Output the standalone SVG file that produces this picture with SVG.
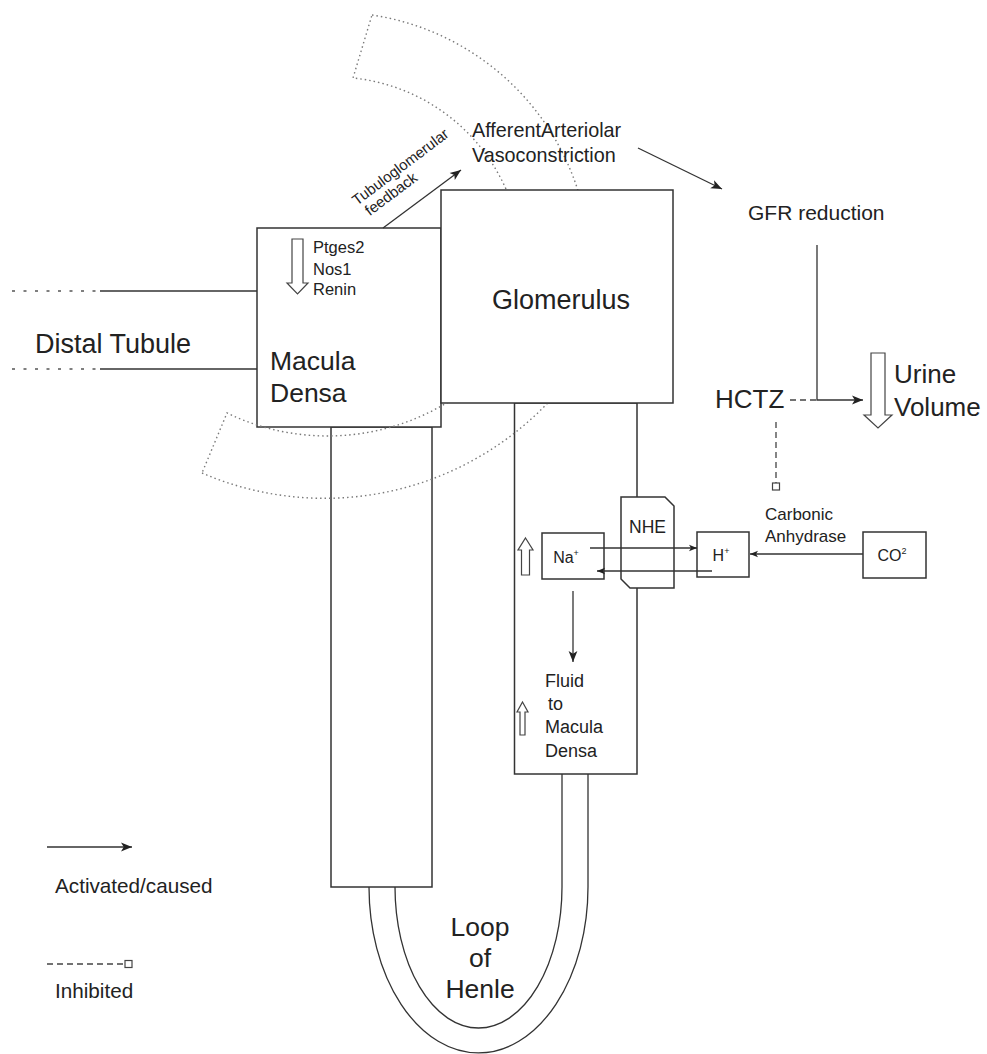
<svg xmlns="http://www.w3.org/2000/svg" width="987" height="1054" viewBox="0 0 987 1054">
<style>
.ln{stroke:#333;stroke-width:1.3;fill:none}
.box{fill:#fff;stroke:#333;stroke-width:1.5}
.dot{fill:none;stroke:#7a7a7a;stroke-width:1.4;stroke-dasharray:1.5 3}
.dash{stroke:#444;stroke-width:1.3;fill:none;stroke-dasharray:6 4}
.hollow{fill:#fff;stroke:#444;stroke-width:1.2}
.t{font-family:"Liberation Sans",Arial,Helvetica,sans-serif;fill:#222}
.big{font-size:26.5px}
.mid{font-size:21px}
.sm{font-size:17px}
</style>
<defs>
<marker id="arr" viewBox="0 0 10 10" refX="10" refY="5" markerWidth="11" markerHeight="11" markerUnits="userSpaceOnUse" orient="auto">
<path d="M0,1 L10,5 L0,9 L2.5,5 Z" fill="#222"/>
</marker>
<marker id="arrS" viewBox="0 0 10 10" refX="10" refY="5" markerWidth="8" markerHeight="8" markerUnits="userSpaceOnUse" orient="auto">
<path d="M0,1 L10,5 L0,9 L2.5,5 Z" fill="#222"/>
</marker>
</defs>
<rect width="987" height="1054" fill="#fff"/>

<g id="distal-tubule">
<line x1="12" y1="291" x2="100" y2="291" stroke="#555" stroke-width="1.5" stroke-dasharray="3 8.5"/>
<line x1="100" y1="291" x2="257" y2="291" class="ln"/>
<line x1="12" y1="369" x2="100" y2="369" stroke="#555" stroke-width="1.5" stroke-dasharray="3 8.5"/>
<line x1="100" y1="369" x2="257" y2="369" class="ln"/>
<text class="t" font-size="27" x="35" y="353">Distal Tubule</text>
</g>

<g id="descending-limb">
<rect class="box" x="331" y="427" width="101" height="460"/>
</g>

<g id="ascending-limb">
<rect class="box" x="514.5" y="403" width="122.5" height="371"/>
</g>

<g id="loop-of-henle">
<path class="ln" d="M369 887 A109.5 166 0 0 0 588 887 L588 774"/>
<path class="ln" d="M395 887 A83.5 141 0 0 0 562 887 L562 774"/>
<text class="t big" text-anchor="middle"><tspan x="480" y="936">Loop</tspan><tspan x="480" y="967">of</tspan><tspan x="480" y="998">Henle</tspan></text>
</g>

<g id="macula-densa">
<rect class="box" x="257" y="228" width="184" height="199"/>
<polygon class="hollow" points="292,239 303,239 303,283 308,283 297.5,294 287,283 292,283"/>
<text class="t" font-size="16.5"><tspan x="313" y="253">Ptges2</tspan><tspan x="313" y="275">Nos1</tspan><tspan x="313" y="295">Renin</tspan></text>
<text class="t big"><tspan x="270" y="370">Macula</tspan><tspan x="270" y="402">Densa</tspan></text>
</g>

<g id="tgf-zone">
<path class="dot" d="M372 15 A256 256 0 0 1 590 268 L522 268 A188 188 0 0 0 353 78 Z"/>
<path class="dot" d="M202 473 A309 309 0 0 0 613 300 L538 300 A231 231 0 0 1 227 413 Z"/>
</g>

<g id="glomerulus">
<rect class="box" x="441" y="190" width="232" height="213"/>
<text class="t" font-size="27" x="492" y="309">Glomerulus</text>
</g>

<g id="nhe">
<path class="box" d="M621 497 L665 497 L674 506 L674 588 L630 588 L621 579 Z"/>
<text class="t" font-size="17.5" x="647.5" y="533" text-anchor="middle">NHE</text>
</g>

<g id="na">
<rect class="box" x="542" y="533" width="62" height="46"/>
<text class="t" font-size="16" x="566" y="563" text-anchor="middle">Na<tspan font-size="9" dy="-7">+</tspan></text>
<polygon class="hollow" points="525.5,538 533,550 529.5,550 529.5,575 521.5,575 521.5,550 518,550"/>
</g>

<g id="h">
<rect class="box" x="697" y="532" width="52" height="45"/>
<text class="t" font-size="16" x="721" y="561" text-anchor="middle">H<tspan font-size="9" dy="-7">+</tspan></text>
</g>

<g id="co2">
<rect class="box" x="863" y="532" width="63" height="46"/>
<text class="t" font-size="16" x="892" y="561" text-anchor="middle">CO<tspan font-size="9" dy="-7">2</tspan></text>
</g>

<g id="carbonic-anhydrase">
<text class="t sm"><tspan x="765" y="520">Carbonic</tspan><tspan x="765" y="542">Anhydrase</tspan></text>
</g>

<g id="fluid">
<polygon class="hollow" points="522.5,702 528,712 525,712 525,735 520,735 520,712 517,712"/>
<text class="t" font-size="18"><tspan x="545" y="687">Fluid</tspan><tspan x="548" y="710">to</tspan><tspan x="545" y="733">Macula</tspan><tspan x="545" y="757">Densa</tspan></text>
</g>

<g id="afferent">
<text class="t" font-size="19.8"><tspan x="472" y="137">AfferentArteriolar</tspan><tspan x="472" y="162">Vasoconstriction</tspan></text>
</g>

<g id="tgf-label">
<text class="t" font-size="15" transform="translate(357,206) rotate(-37)"><tspan x="0" y="0">Tubuloglomerular</tspan><tspan x="4" y="16">feedback</tspan></text>
</g>

<g id="gfr">
<text class="t mid" x="748" y="220">GFR reduction</text>
</g>

<g id="hctz">
<text class="t" font-size="26" x="715" y="408">HCTZ</text>
</g>

<g id="urine-volume">
<polygon class="hollow" points="871,353 885,353 885,415 892,415 878,428 864,415 871,415"/>
<text class="t" font-size="26"><tspan x="894" y="383">Urine</tspan><tspan x="894" y="416">Volume</tspan></text>
</g>

<g id="connectors">
<line class="ln" x1="383" y1="228" x2="461" y2="170" marker-end="url(#arr)"/>
<line class="ln" x1="638" y1="148" x2="722" y2="189" marker-end="url(#arr)"/>
<polyline class="ln" points="817,245 817,400 863,400" marker-end="url(#arr)"/>
<line class="dash" x1="790" y1="400" x2="817" y2="400" stroke-dasharray="4 3"/>
<line class="dash" x1="776" y1="422" x2="776" y2="483" stroke-dasharray="3 2.5"/>
<rect x="772.5" y="483" width="7" height="7" fill="#fff" stroke="#444" stroke-width="1.2"/>
<line class="ln" x1="590" y1="548" x2="697" y2="548" marker-end="url(#arrS)"/>
<line class="ln" x1="712" y1="571" x2="597" y2="571" marker-end="url(#arrS)"/>
<line class="ln" x1="863" y1="554" x2="750" y2="554" marker-end="url(#arrS)"/>
<line class="ln" x1="573" y1="591" x2="573" y2="662" marker-end="url(#arr)"/>
</g>

<g id="legend">
<line class="ln" x1="47" y1="847" x2="132" y2="847" marker-end="url(#arr)"/>
<text class="t" font-size="20.7" x="55" y="893">Activated/caused</text>
<line class="dash" x1="47" y1="964" x2="125" y2="964" stroke-dasharray="6 4"/>
<rect x="125" y="960.5" width="7" height="7" fill="#fff" stroke="#444" stroke-width="1.2"/>
<text class="t" font-size="20.7" x="55" y="998">Inhibited</text>
</g>
</svg>
